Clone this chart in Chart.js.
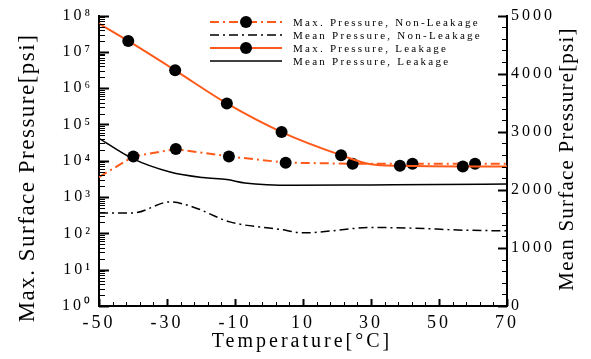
<!DOCTYPE html>
<html><head><meta charset="utf-8">
<script src="https://cdn.jsdelivr.net/npm/chart.js@4.4.1/dist/chart.umd.min.js"></script>
<style>html,body{margin:0;padding:0;background:#fff;}canvas{display:block;background:#fff;}</style>
</head><body>
<canvas id="c" width="591" height="359"></canvas>
<script>
// ---- data ----
const xTickValues = [-50, -30, -10, 10, 30, 50, 70];
const yExponents = [0, 1, 2, 3, 4, 5, 6, 7, 8];
const y1TickValues = [0, 1000, 2000, 3000, 4000, 5000];
const seriesNames = ['Max. Pressure, Non-Leakage', 'Mean Pressure, Non-Leakage', 'Max. Pressure, Leakage', 'Mean Pressure, Leakage'];
const xTitle = 'Temperature[°C]';
const yTitle = 'Max. Surface Pressure[psi]';
const y1Title = 'Mean Surface Pressure[psi]';

const maxNonLeakTemps = [-50, -39.9, -27.4, -11.8, 4.9, 24.6, 42.2, 60.6, 70];
const maxNonLeakVals  = [3.55e3, 1.32e4, 2.1e4, 1.32e4, 8.9e3, 8.3e3, 8.3e3, 8.3e3, 8.3e3];
const maxNonLeakMarks = [0, 1, 1, 1, 1, 1, 1, 1, 0];

const meanNonLeakTemps = [-50, -40, -29.1, -22.4, -11.5, 3.2, 10, 30.6, 42.4, 57, 70];
const meanNonLeakVals  = [1603, 1603, 1792, 1706, 1448, 1320, 1260, 1352, 1340, 1306, 1294];

const maxLeakTemps = [-50, -41.4, -27.6, -12.4, 3.7, 21.2, 30, 38.5, 57, 70];
const maxLeakVals  = [6.0e7, 2.0e7, 3.1e6, 3.8e5, 6.2e4, 1.43e4, 8.0e3, 7.3e3, 7.0e3, 7.0e3];
const maxLeakMarks = [0, 1, 1, 1, 1, 1, 0, 1, 1, 0];

const meanLeakTemps = [-50, -40.1, -29.1, -19.4, -12.4, -7.1, 7.1, 30, 50, 70];
const meanLeakVals  = [2887, 2538, 2308, 2211, 2177, 2119, 2079, 2085, 2090, 2100];

// ---- styles ----
const ORANGE = 'rgb(255,90,25)';
const DASHDOT = [9, 4, 2, 4];
const SERIF = "'Liberation Serif', 'Times New Roman', serif";
const SUP = ['⁰','¹','²','³','⁴','⁵','⁶','⁷','⁸','⁹'];
const MARK_R = 6;

const pts = (xs, ys) => xs.map((x, i) => ({x: x, y: ys[i]}));
const radii = (m) => m.map(v => v ? MARK_R : 0);

const legendStyles = [
  {color: ORANGE, dash: DASHDOT, width: 2, mark: true},
  {color: '#000', dash: DASHDOT, width: 1.5, mark: false},
  {color: ORANGE, dash: [], width: 2, mark: true},
  {color: '#000', dash: [], width: 1.5, mark: false}
];

const deco = {
  id: 'deco',
  beforeUpdate(chart) { chart.ctx.letterSpacing = '3px'; },
  beforeDraw(chart) { chart.ctx.letterSpacing = '3px'; },
  afterDraw(chart) {
    const ctx = chart.ctx, a = chart.chartArea;
    const sx = chart.scales.x, sy = chart.scales.y, sy1 = chart.scales.y1;
    ctx.save();
    ctx.strokeStyle = '#000';
    ctx.lineWidth = 1;
    const line = (x1, y1, x2, y2) => { ctx.beginPath(); ctx.moveTo(x1, y1); ctx.lineTo(x2, y2); ctx.stroke(); };
    // x ticks (inward)
    for (let v = sx.min; v <= sx.max; v += 4) {
      const px = Math.round(sx.getPixelForValue(v)) + 0.5;
      const major = ((v - sx.min) % 20) === 0;
      ctx.lineWidth = major ? 2 : 1;
      line(px, a.bottom, px, a.bottom - (major ? 7 : 4));
    }
    // left log ticks
    for (let k = 0; k <= 8; k++) {
      for (let m = 1; m <= 9; m++) {
        if (k === 8 && m > 1) break;
        const py = Math.round(sy.getPixelForValue(m * Math.pow(10, k))) + 0.5;
        ctx.lineWidth = m === 1 ? 2 : 1;
        line(a.left, py, a.left + (m === 1 ? 10 : 6), py);
      }
    }
    // right linear ticks
    for (let v = sy1.min; v <= sy1.max; v += 200) {
      const py = Math.round(sy1.getPixelForValue(v)) + 0.5;
      const major = v % 1000 === 0;
      ctx.lineWidth = major ? 2 : 1;
      line(a.right, py, a.right - (major ? 9 : 5), py);
    }
    // legend
    const rows = [22, 35, 48, 61];
    legendStyles.forEach((s, i) => {
      ctx.save();
      ctx.strokeStyle = s.color; ctx.lineWidth = s.width; ctx.setLineDash(s.dash);
      line(210, rows[i], 282, rows[i]);
      ctx.restore();
      if (s.mark) { ctx.fillStyle = '#000'; ctx.beginPath(); ctx.arc(246, rows[i], MARK_R, 0, Math.PI * 2); ctx.fill(); }
      ctx.fillStyle = '#000';
      ctx.font = '11px ' + SERIF;
      ctx.letterSpacing = '2.25px';
      ctx.textAlign = 'left'; ctx.textBaseline = 'middle';
      ctx.fillText(seriesNames[i], 293, rows[i] + 1);
    });
    // titles
    ctx.fillStyle = '#000';
    ctx.textAlign = 'center'; ctx.textBaseline = 'middle';
    ctx.font = '23px ' + SERIF; ctx.letterSpacing = '1.5px';
    ctx.save(); ctx.translate(28, 178); ctx.rotate(-Math.PI / 2); ctx.fillText(yTitle, 0, 0); ctx.restore();
    ctx.font = '21px ' + SERIF; ctx.letterSpacing = '1.2px';
    ctx.save(); ctx.translate(567, 159); ctx.rotate(-Math.PI / 2); ctx.fillText(y1Title, 0, 0); ctx.restore();
    ctx.font = '20px ' + SERIF; ctx.letterSpacing = '3px';
    ctx.fillText(xTitle, 302, 342);
    ctx.restore();
    ctx.letterSpacing = '0px';
  }
};

const chart = new Chart(document.getElementById('c'), {
  type: 'scatter',
  data: {
    datasets: [
      { label: seriesNames[0], data: pts(maxNonLeakTemps, maxNonLeakVals), yAxisID: 'y', showLine: true,
        borderColor: ORANGE, borderWidth: 2, borderDash: DASHDOT, pointRadius: radii(maxNonLeakMarks),
        pointBackgroundColor: '#000', pointBorderWidth: 0, tension: 0, order: 1 },
      { label: seriesNames[1], data: pts(meanNonLeakTemps, meanNonLeakVals), yAxisID: 'y1', showLine: true,
        borderColor: '#000', borderWidth: 1.5, borderDash: DASHDOT, pointRadius: 0, cubicInterpolationMode: 'monotone', order: 3 },
      { label: seriesNames[2], data: pts(maxLeakTemps, maxLeakVals), yAxisID: 'y', showLine: true,
        borderColor: ORANGE, borderWidth: 2, pointRadius: radii(maxLeakMarks),
        pointBackgroundColor: '#000', pointBorderWidth: 0, cubicInterpolationMode: 'monotone', order: 0 },
      { label: seriesNames[3], data: pts(meanLeakTemps, meanLeakVals), yAxisID: 'y1', showLine: true,
        borderColor: '#000', borderWidth: 1.5, pointRadius: 0, cubicInterpolationMode: 'monotone', order: 2 }
    ]
  },
  options: {
    responsive: false, animation: false, events: [],
    layout: { padding: { top: 15, left: 0, right: 0, bottom: 0 } },
    plugins: { legend: { display: false }, tooltip: { enabled: false } },
    scales: {
      x: {
        type: 'linear', min: -50, max: 70,
        afterBuildTicks: s => { s.ticks = xTickValues.map(v => ({value: v})); },
        afterFit: s => { s.height = 53; },
        grid: { display: false, drawTicks: false },
        border: { display: true, color: '#000', width: 2 },
        ticks: { color: '#000', font: { family: SERIF, size: 18 }, padding: 6, maxRotation: 0, autoSkip: false,
                 callback: v => String(v) }
      },
      y: {
        type: 'logarithmic', position: 'left', min: 1, max: 1e8,
        afterBuildTicks: s => { s.ticks = yExponents.map(e => ({value: Math.pow(10, e)})); },
        afterFit: s => { s.width = 99; },
        grid: { display: false, drawTicks: false },
        border: { display: true, color: '#000', width: 2 },
        ticks: { color: '#000', font: { family: SERIF, size: 16 }, padding: 6, autoSkip: false,
                 callback: v => { const e = Math.round(Math.log10(v)); return '10' + SUP[e]; } }
      },
      y1: {
        type: 'linear', position: 'right', min: 0, max: 5000,
        afterBuildTicks: s => { s.ticks = y1TickValues.map(v => ({value: v})); },
        afterFit: s => { s.width = 84; },
        grid: { display: false, drawTicks: false },
        border: { display: true, color: '#000', width: 2 },
        ticks: { color: '#000', font: { family: SERIF, size: 16 }, padding: 4, autoSkip: false,
                 callback: v => String(v) }
      }
    }
  },
  plugins: [deco]
});
</script>
</body></html>
